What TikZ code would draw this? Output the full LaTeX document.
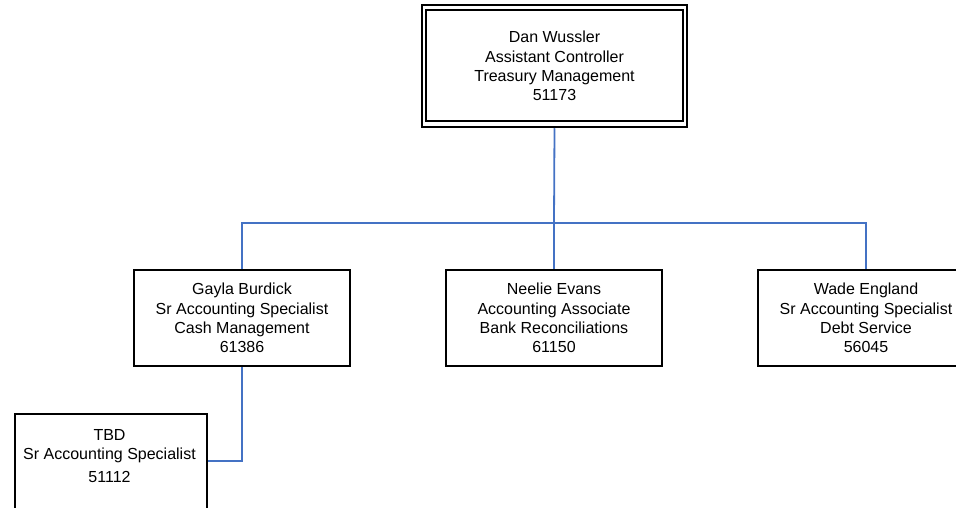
\documentclass[tikz,border=0pt]{standalone}
\usepackage{fontspec}
\setmainfont{Liberation Sans}
\begin{document}
\begin{tikzpicture}[x=1pt,y=-1pt,
  box/.style={draw=black,line width=2pt,rectangle,minimum width=216pt,minimum height=96pt,
    align=center,font=\fontsize{16pt}{19.3pt}\selectfont,inner sep=0pt,fill=white},
  conn/.style={draw={rgb,255:red,68;green,114;blue,196},line width=1.8pt}]
\useasboundingbox (0,0) rectangle (956,508);
\clip (0,0) rectangle (956,508);
% top box
\node[box,minimum width=265pt,minimum height=122pt,line width=2.5pt] (top) at (554.5,66)
  {Dan Wussler\\Assistant Controller\\Treasury Management\\51173};
\node[draw=black,line width=2pt,minimum width=257pt,minimum height=111pt,inner sep=0pt] (topin) at (554.5,65.5) {};
\node[box] (gayla) at (242,318) {Gayla Burdick\\Sr Accounting Specialist\\Cash Management\\61386};
\node[box] (neelie) at (554,318) {Neelie Evans\\Accounting Associate\\Bank Reconciliations\\61150};
\node[box] (wade) at (866,318) {Wade England\\Sr Accounting Specialist\\Debt Service\\56045};
\node[box,minimum width=192pt,minimum height=120pt,anchor=north west] (tbd) at (14,413) {};
\node[font=\fontsize{16pt}{19.3pt}\selectfont,align=center,anchor=north,inner sep=0pt] (tbdtext) at (109.5,429)
  {TBD\\Sr Accounting Specialist\\[4pt]51112};
\coordinate (bus) at (554,223);
\draw[conn] (top.south) -- (bus);
\draw[conn] (gayla.north) |- (bus) -| (wade.north);
\draw[conn] (bus) -- (neelie.north);
\draw[conn] (gayla.south) |- (tbd.east |- 0,461);
\end{tikzpicture}
\end{document}
